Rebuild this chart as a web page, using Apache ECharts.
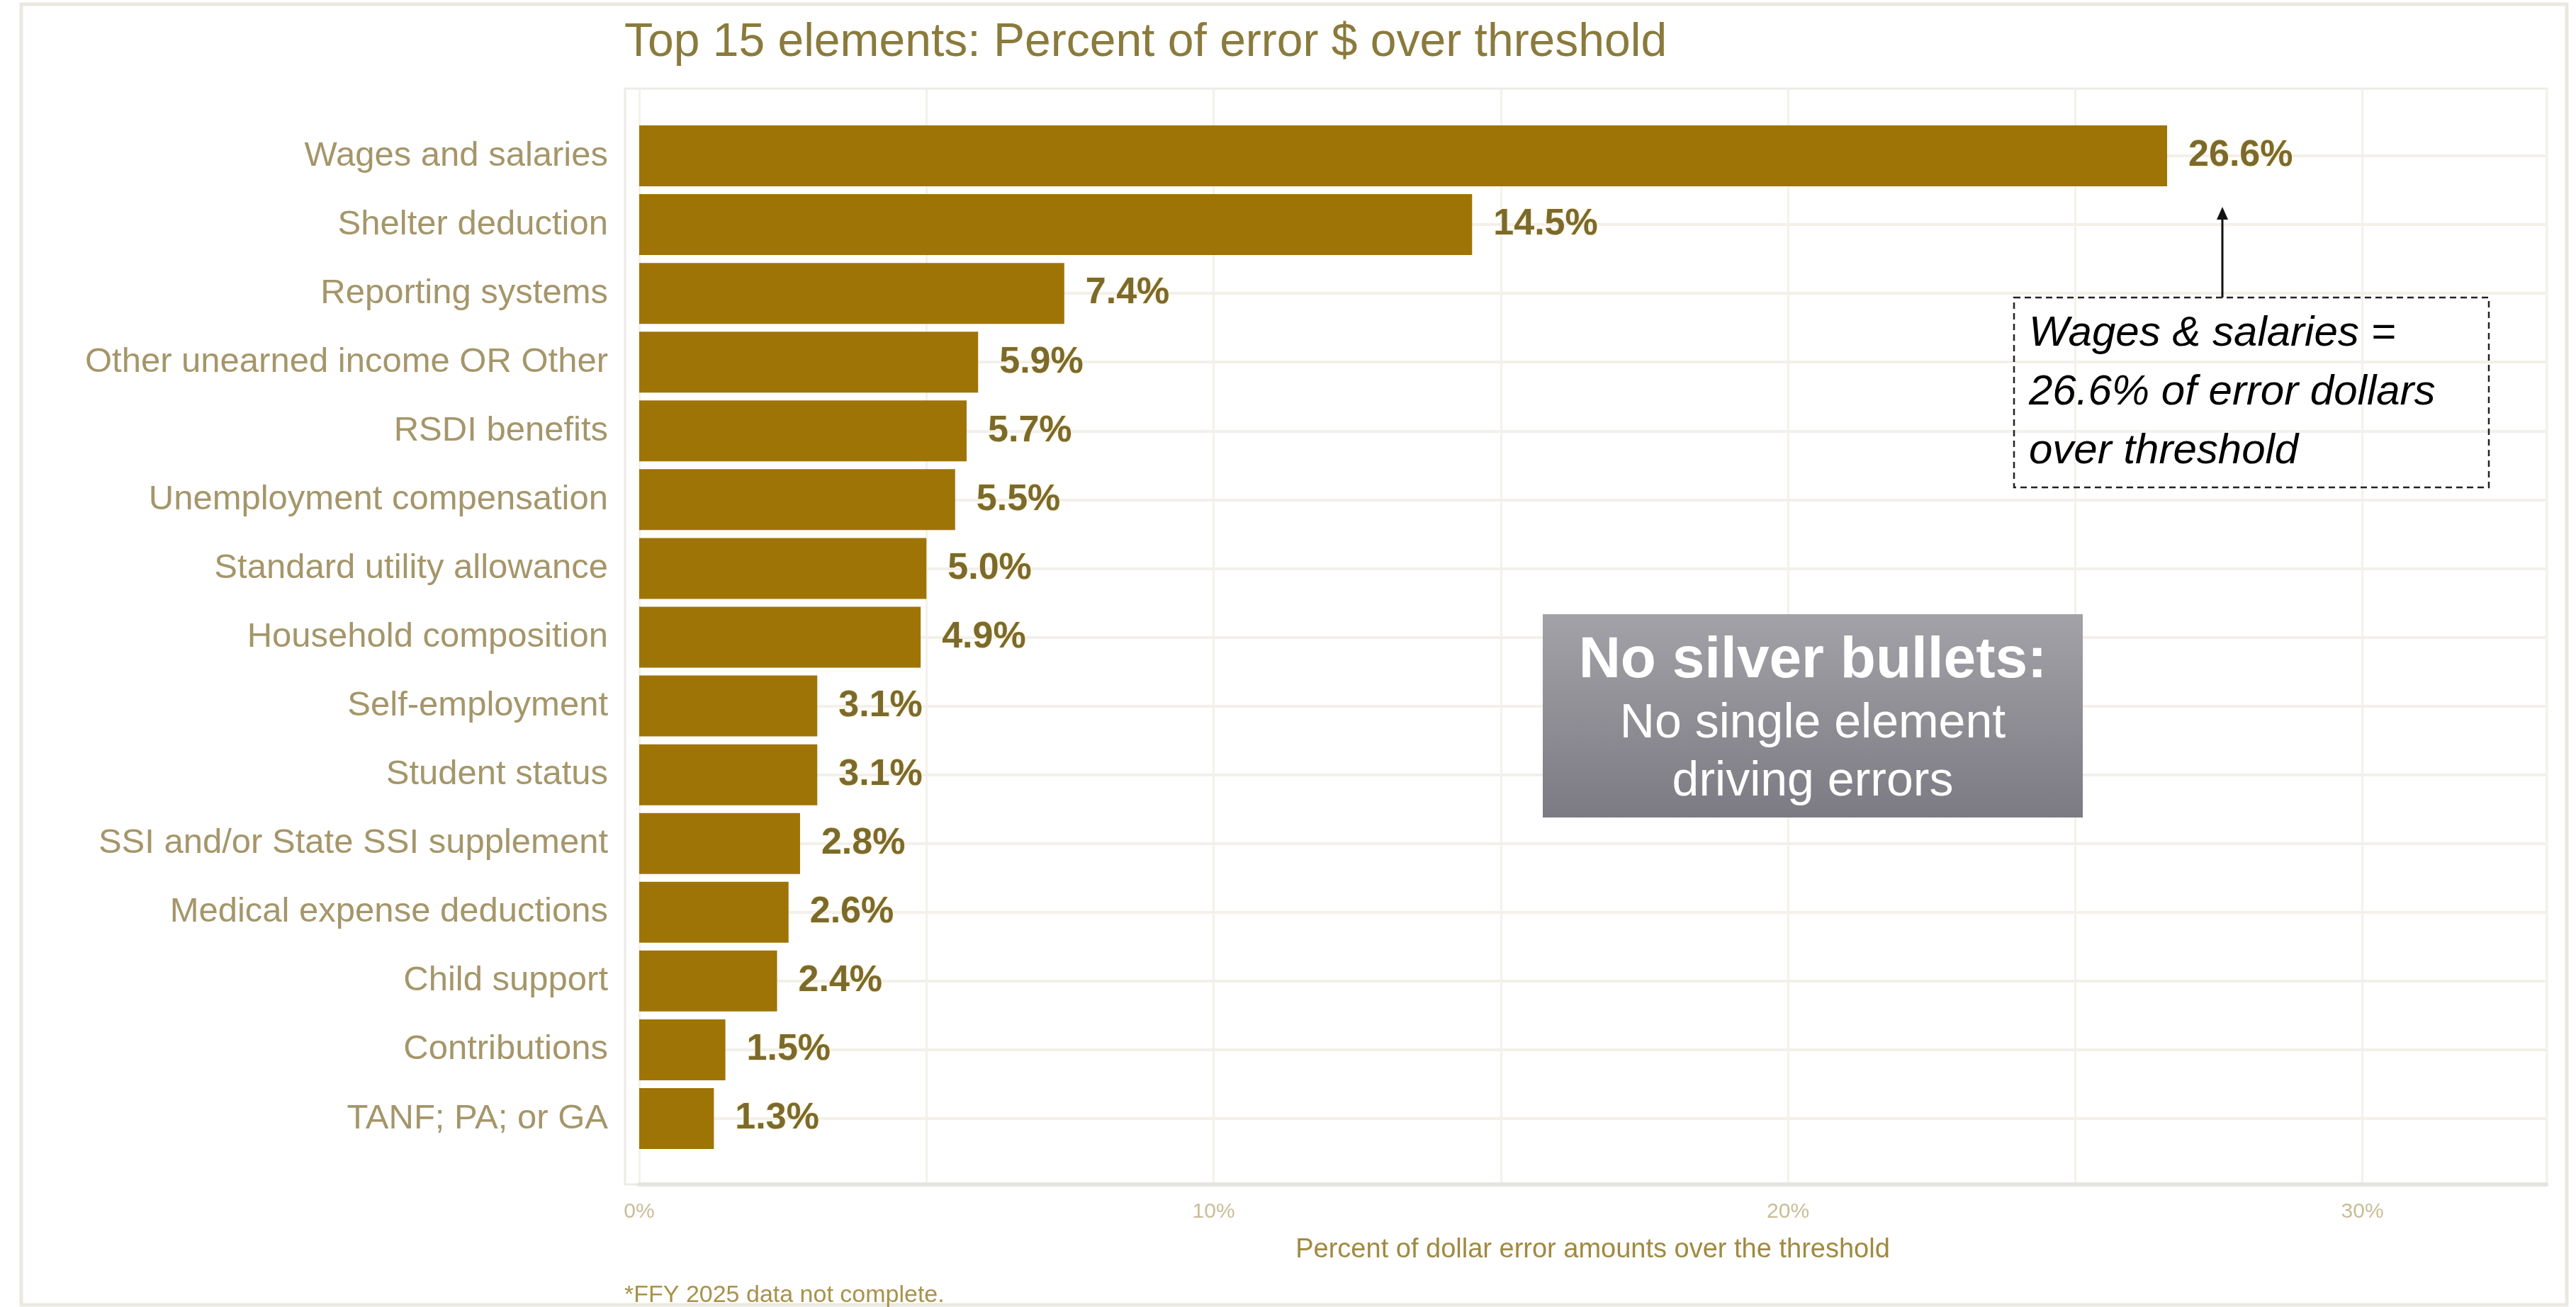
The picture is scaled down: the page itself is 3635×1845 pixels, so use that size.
<!DOCTYPE html>
<html>
<head>
<meta charset="utf-8">
<script src="https://cdn.jsdelivr.net/npm/echarts@6/dist/echarts.min.js"></script>
<style>
html, body { margin: 0; padding: 0; background: #fff; }
#chart { width: 3635px; height: 1845px; }
</style>
</head>
<body>
<div id="chart"></div>
<script>
// data
var categories = [
    'Wages and salaries',
    'Shelter deduction',
    'Reporting systems',
    'Other unearned income OR Other',
    'RSDI benefits',
    'Unemployment compensation',
    'Standard utility allowance',
    'Household composition',
    'Self-employment',
    'Student status',
    'SSI and/or State SSI supplement',
    'Medical expense deductions',
    'Child support',
    'Contributions',
    'TANF; PA; or GA'
];
var values = [26.6, 14.5, 7.4, 5.9, 5.7, 5.5, 5.0, 4.9, 3.1, 3.1, 2.8, 2.6, 2.4, 1.5, 1.3];
var tickValues = [0, 10, 20, 30];
var xMax = 33.2;

var font = 'Liberation Sans';
var dom = document.getElementById('chart');
var myChart = echarts.init(dom);

var option = {
    backgroundColor: '#ffffff',
    animation: false,
    title: {
        text: 'Top 15 elements: Percent of error $ over threshold',
        left: 881,
        top: 23,
        padding: 0,
        textStyle: {
            fontFamily: font,
            fontSize: 66,
            fontWeight: 'normal',
            lineHeight: 76,
            color: '#8a7a3c'
        }
    },
    grid: [
        // bars
        {left: 902, top: 220, width: 2691, height: 1359},
        // panel: vertical gridlines + bottom axis
        {left: 902, top: 125, width: 2691, height: 1547}
    ],
    xAxis: [{
        type: 'value',
        gridIndex: 0,
        min: 0,
        max: xMax,
        show: false
    }, {
        type: 'value',
        gridIndex: 1,
        min: 0,
        max: xMax,
        interval: 5,
        axisLine: {show: true, lineStyle: {color: '#e6e4df', width: 6}},
        axisTick: {show: false},
        splitLine: {show: true, lineStyle: {color: '#f3f1eb', width: 3}},
        axisLabel: {
            margin: 24,
            fontFamily: font,
            fontSize: 30,
            color: '#c9bd98',
            showMaxLabel: false,
            formatter: function (v) {
                return tickValues.indexOf(v) >= 0 ? v + '%' : '';
            }
        },
        name: 'Percent of dollar error amounts over the threshold',
        nameLocation: 'middle',
        nameGap: 74,
        nameTextStyle: {fontFamily: font, fontSize: 38, color: '#a08a40'}
    }],
    yAxis: [{
        type: 'category',
        gridIndex: 0,
        data: categories,
        inverse: true,
        boundaryGap: false,
        axisLine: {show: false},
        axisTick: {show: false},
        splitLine: {show: true, lineStyle: {color: '#f3f0ea', width: 4}},
        axisLabel: {
            margin: 44,
            fontFamily: font,
            fontSize: 49,
            color: '#a5966a'
        }
    }, {
        type: 'value',
        gridIndex: 1,
        show: false
    }],
    series: [{
        name: 'Percent',
        type: 'bar',
        xAxisIndex: 0,
        yAxisIndex: 0,
        data: values,
        barWidth: 86,
        clip: false,
        itemStyle: {color: '#9f7407'},
        label: {
            show: true,
            position: 'right',
            distance: 30,
            fontFamily: font,
            fontSize: 52,
            fontWeight: 'bold',
            color: '#7b6a2c',
            textBorderColor: '#fff4d2',
            textBorderWidth: 2,
            formatter: function (p) { return p.value.toFixed(1) + '%'; }
        }
    }],
    graphic: [
        // outer frame
        {type: 'rect', z: -10, silent: true,
            shape: {x: 30, y: 6, width: 3592, height: 1836},
            style: {fill: 'none', stroke: '#ebe8e0', lineWidth: 5}},
        // panel border
        {type: 'rect', z: -10, silent: true,
            shape: {x: 882, y: 125, width: 2712, height: 1547},
            style: {fill: 'none', stroke: '#ecebe6', lineWidth: 3}},
        // footnote
        {type: 'text', left: 881, top: 1812,
            style: {text: '*FFY 2025 data not complete.', fontFamily: font, fontSize: 34, fill: '#a8924a'}},
        // arrow
        {type: 'line', z: 100,
            shape: {x1: 3136, y1: 420, x2: 3136, y2: 304},
            style: {stroke: '#111', lineWidth: 3}},
        {type: 'polygon', z: 100,
            shape: {points: [[3136, 292], [3128, 310], [3144, 310]]},
            style: {fill: '#111'}},
        // annotation box
        {type: 'rect', z: 100,
            shape: {x: 2842, y: 420, width: 670, height: 268},
            style: {fill: 'none', stroke: '#222', lineWidth: 2.5, lineDash: [9, 6]}},
        {type: 'text', z: 101, x: 2863, y: 430,
            style: {
                text: 'Wages & salaries =\n26.6% of error dollars\nover threshold',
                fontFamily: font, fontSize: 60, fontStyle: 'italic',
                lineHeight: 83, fill: '#000'
            }},
        // grey callout
        {type: 'rect', z: 100,
            shape: {x: 2177, y: 867, width: 762, height: 287},
            style: {
                fill: new echarts.graphic.LinearGradient(0, 0, 0, 1, [
                    {offset: 0, color: '#a3a2a8'},
                    {offset: 1, color: '#7c7b83'}
                ])
            }},
        {type: 'text', z: 101, x: 2558, y: 933,
            style: {text: 'No silver bullets:', fontFamily: font, fontSize: 82, fontWeight: 'bold',
                fill: '#fff', align: 'center', verticalAlign: 'middle'}},
        {type: 'text', z: 101, x: 2558, y: 1063,
            style: {text: 'No single element\ndriving errors', fontFamily: font, fontSize: 68,
                lineHeight: 82, fill: '#fff', align: 'center', verticalAlign: 'middle'}}
    ]
};

if (option && typeof option === 'object') {
    myChart.setOption(option, true);
}
</script>
</body>
</html>
